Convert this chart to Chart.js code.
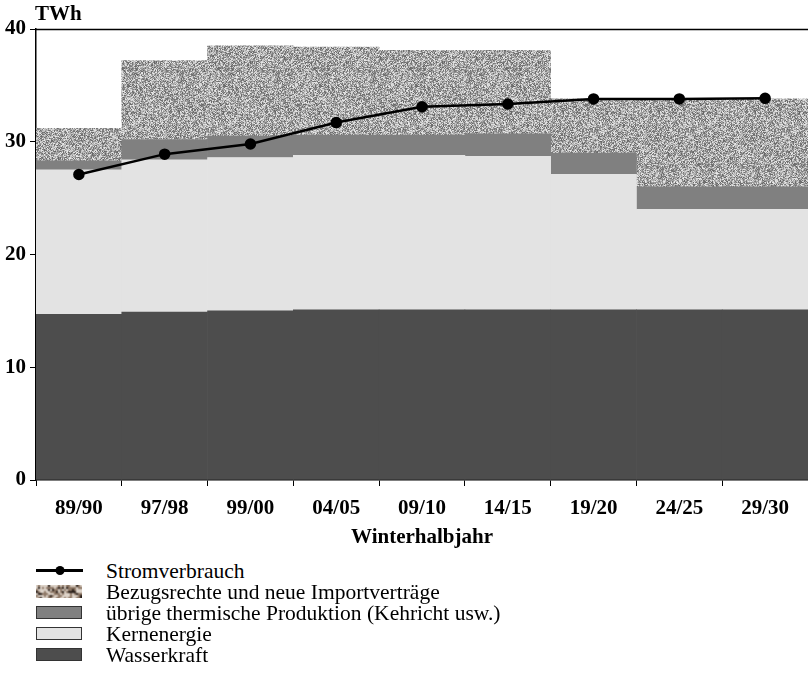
<!DOCTYPE html>
<html>
<head>
<meta charset="utf-8">
<script src="https://cdn.jsdelivr.net/npm/chart.js@4/dist/chart.umd.min.js"></script>
<style>
  body { margin: 0; background: #fff; font-family: "Times New Roman", "Liberation Serif", "DejaVu Serif", serif; }
  #wrap { position: relative; width: 808px; height: 552px; }
  #legend { position: absolute; left: 0; top: 560px; }
  .row { position: absolute; left: 0; height: 21px; width: 700px; }
  .sw { position: absolute; left: 36px; top: 4px; width: 46px; height: 13px; box-sizing: border-box; border: 1px solid #333; }
  .lab { position: absolute; left: 106px; top: 1px; font-size: 21.5px; line-height: 21px; color: #000; white-space: nowrap; }
  canvas.ln { position: absolute; left: 36px; top: 0; }
</style>
</head>
<body>
<div id="wrap"><canvas id="chart" width="808" height="552"></canvas></div>
<div id="legend"></div>
<script>
'use strict';

// --- Daten ---
const categories = ['89/90', '97/98', '99/00', '04/05', '09/10', '14/15', '19/20', '24/25', '29/30'];
const wasserkraft = [14.7, 14.9, 15.0, 15.1, 15.1, 15.1, 15.1, 15.1, 15.1];
const kernenergie = [12.8, 13.5, 13.6, 13.7, 13.7, 13.6, 12.0, 8.9, 8.9];
const thermisch   = [0.8, 1.8, 1.9, 1.8, 1.8, 2.0, 1.9, 2.0, 2.0];
const importe     = [2.9, 7.0, 8.0, 7.8, 7.5, 7.4, 4.8, 7.8, 7.8];
const verbrauch   = [27.1, 28.9, 29.8, 31.7, 33.1, 33.35, 33.8, 33.8, 33.85];
const yTicks      = [0, 10, 20, 30, 40];

const seriesLabels = [
  'Stromverbrauch',
  'Bezugsrechte und neue Importverträge',
  'übrige thermische Produktion (Kehricht usw.)',
  'Kernenergie',
  'Wasserkraft',
];

// deterministic noise texture for the import area
function mkNoise(size, palette) {
  const c = document.createElement('canvas');
  c.width = c.height = size;
  const g = c.getContext('2d');
  const img = g.createImageData(size, size);
  let s = 12345;
  const rnd = () => { s = (s * 1103515245 + 12345) & 0x7fffffff; return s / 0x7fffffff; };
  for (let i = 0; i < size * size; i++) {
    const col = palette(rnd());
    img.data[i * 4] = col[0];
    img.data[i * 4 + 1] = col[1];
    img.data[i * 4 + 2] = col[2];
    img.data[i * 4 + 3] = 255;
  }
  g.putImageData(img, 0, 0);
  return c;
}

const greyNoise = mkNoise(96, r => {
  const v = Math.round(100 + r * 135);
  return [v, v, v];
});

const ctx = document.getElementById('chart').getContext('2d');
const importPattern = ctx.createPattern(greyNoise, 'repeat');

const serif = '"Times New Roman", "Liberation Serif", "DejaVu Serif", serif';

const frame = {
  id: 'frame',
  afterDraw(chart) {
    const { ctx, chartArea: a } = chart;
    ctx.save();
    ctx.strokeStyle = '#000';
    ctx.lineWidth = 1.5;
    ctx.beginPath();
    ctx.moveTo(a.left, a.top + 0.5);
    ctx.lineTo(a.right, a.top + 0.5);
    ctx.stroke();
    ctx.fillStyle = '#000';
    ctx.font = 'bold 21px ' + serif;
    ctx.textBaseline = 'alphabetic';
    ctx.fillText('TWh', a.left - 1, a.top - 9);
    ctx.restore();
  },
};

new Chart(ctx, {
  data: {
    labels: categories,
    datasets: [
      {
        type: 'line', label: seriesLabels[0], data: verbrauch, stack: 'line', order: 0,
        borderColor: '#000', backgroundColor: '#000', borderWidth: 2.5,
        pointRadius: 4.5, pointBackgroundColor: '#000', tension: 0,
      },
      { type: 'bar', label: seriesLabels[4], data: wasserkraft, backgroundColor: '#4d4d4d', order: 1 },
      { type: 'bar', label: seriesLabels[3], data: kernenergie, backgroundColor: '#e3e3e3', order: 1 },
      { type: 'bar', label: seriesLabels[2], data: thermisch, backgroundColor: '#808080', order: 1 },
      { type: 'bar', label: seriesLabels[1], data: importe, backgroundColor: importPattern, order: 1 },
    ],
  },
  options: {
    responsive: false,
    animation: false,
    layout: { autoPadding: false, padding: { top: 29, right: 0, left: 0, bottom: 0 } },
    datasets: {
      bar: { categoryPercentage: 1, barPercentage: 1, borderWidth: 0, stack: 'bars' },
    },
    plugins: { legend: { display: false }, tooltip: { enabled: false } },
    scales: {
      x: {
        stacked: true,
        grid: { offset: true, drawOnChartArea: false, color: '#000', tickLength: 6, tickColor: '#000' },
        border: { color: '#000', width: 1.5 },
        ticks: { color: '#000', font: { family: serif, size: 21, weight: 'bold' }, padding: 10, maxRotation: 0 },
        title: { display: true, text: 'Winterhalbjahr', color: '#000', font: { family: serif, size: 21, weight: 'bold' }, padding: { top: 0, bottom: 2 } },
        afterFit(axis) { axis.height = 72; },
      },
      y: {
        stacked: true,
        min: 0, max: 40,
        afterBuildTicks(axis) { axis.ticks = yTicks.map(v => ({ value: v })); },
        grid: { drawOnChartArea: false, color: '#000', tickLength: 6, tickColor: '#000' },
        border: { color: '#000', width: 1.5 },
        ticks: { color: '#000', font: { family: serif, size: 21, weight: 'bold' }, padding: 4 },
        afterFit(axis) { axis.width = 36; },
      },
    },
  },
  plugins: [frame],
});

// --- Legende ---
const legend = document.getElementById('legend');
const swatches = [null, 'noise', '#808080', '#e3e3e3', '#4d4d4d'];
const brownNoise = mkNoise(48, r => {
  if (r < 0.18) return [40, 30, 25];
  if (r < 0.55) return [140, 118, 100];
  return [220, 210, 200];
});
seriesLabels.forEach((txt, i) => {
  const row = document.createElement('div');
  row.className = 'row';
  row.style.top = (i * 21) + 'px';
  if (i === 0) {
    const c = document.createElement('canvas');
    c.className = 'ln';
    c.width = 48; c.height = 21;
    const g = c.getContext('2d');
    g.strokeStyle = '#000'; g.lineWidth = 3;
    g.beginPath(); g.moveTo(0, 10.5); g.lineTo(47, 10.5); g.stroke();
    g.beginPath(); g.arc(24, 10.5, 4.5, 0, Math.PI * 2); g.fill();
    row.appendChild(c);
  } else {
    const sw = document.createElement('div');
    sw.className = 'sw';
    if (swatches[i] === 'noise') {
      sw.style.backgroundImage = 'url(' + brownNoise.toDataURL() + ')';
      sw.style.backgroundSize = '96px 96px';
      sw.style.border = 'none';
    } else {
      sw.style.background = swatches[i];
    }
    row.appendChild(sw);
  }
  const lab = document.createElement('div');
  lab.className = 'lab';
  lab.textContent = txt;
  row.appendChild(lab);
  legend.appendChild(row);
});
</script>
</body>
</html>
